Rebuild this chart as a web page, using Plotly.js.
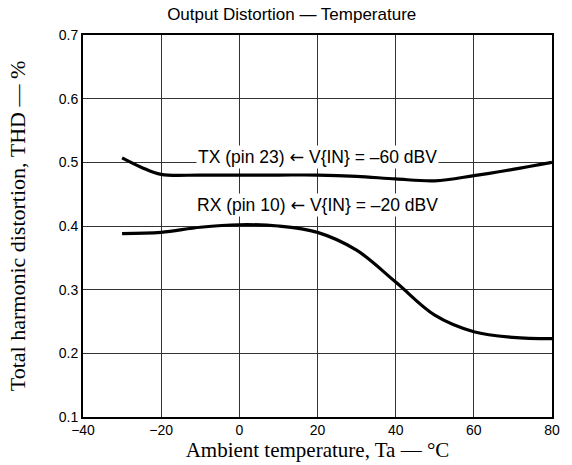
<!DOCTYPE html>
<html><head><meta charset="utf-8">
<script src="https://cdn.plot.ly/plotly-3.0.1.min.js"></script>
<style>body{margin:0;padding:0;background:#fff}#chart{width:572px;height:465px}</style>
</head><body><div id="chart"></div>
<script>
const txTemp = [-30, -25, -20, -10, 0, 10, 20, 30, 40, 50, 60, 70, 80];
const txTHD  = [0.507, 0.492, 0.481, 0.480, 0.480, 0.480, 0.480, 0.478, 0.474, 0.471, 0.479, 0.489, 0.500];
const rxTemp = [-30, -20, -10, 0, 10, 20, 30, 40, 50, 60, 70, 80];
const rxTHD  = [0.388, 0.390, 0.398, 0.402, 0.400, 0.390, 0.362, 0.312, 0.260, 0.234, 0.225, 0.223];
const arrow = '<span style="font-family:DejaVu Sans">\u2190</span>';
const txLabel = 'TX (pin 23) ' + arrow + ' V{IN} = \u201360 dBV';
const rxLabel = 'RX (pin 10) ' + arrow + ' V{IN} = \u201320 dBV';
const xTicks = [-40, -20, 0, 20, 40, 60, 80];
const xTickText = ['\u221240', '\u221220', '0', '20', '40', '60', '80'];
const yTicks = [0.1, 0.2, 0.3, 0.4, 0.5, 0.6, 0.7];

const line = {color: '#000', width: 3.2, shape: 'spline', smoothing: 1};
const data = [
  {x: txTemp, y: txTHD, mode: 'lines', line: line, hoverinfo: 'skip'},
  {x: rxTemp, y: rxTHD, mode: 'lines', line: line, hoverinfo: 'skip'}
];
const sans = 'Liberation Sans, Arial, sans-serif';
const serif = 'Liberation Serif, Times New Roman, serif';
const layout = {
  width: 572, height: 465,
  margin: {l: 83, r: 20, t: 35, b: 48},
  paper_bgcolor: '#fff', plot_bgcolor: '#fff',
  showlegend: false,
  title: {text: 'Output Distortion \u2014 Temperature', font: {family: sans, size: 17, color: '#000'}, x: 0.51, xanchor: 'center', y: 0.97, yanchor: 'middle'},
  xaxis: {
    range: [-40, 80], tickvals: xTicks, ticktext: xTickText,
    showgrid: true, gridcolor: '#333', gridwidth: 1,
    showline: true, linecolor: '#000', linewidth: 2, mirror: true,
    ticks: '', zeroline: false, ticklabelstandoff: -1,
    tickfont: {family: sans, size: 14, color: '#000'},
    title: {text: 'Ambient temperature, Ta \u2014 \u00b0C', font: {family: serif, size: 21, color: '#000'}, standoff: 3}
  },
  yaxis: {
    range: [0.1, 0.7], tickvals: yTicks, ticktext: yTicks.map(v => v.toFixed(1)),
    showgrid: true, gridcolor: '#333', gridwidth: 1,
    showline: true, linecolor: '#000', linewidth: 2, mirror: true,
    ticks: '', zeroline: false, ticklabelstandoff: 0,
    tickfont: {family: sans, size: 14, color: '#000'},
    title: {text: 'Total harmonic distortion, THD \u2014 %', font: {family: serif, size: 22, color: '#000'}, standoff: 27}
  },
  annotations: [
    {x: 20, y: 0.508, xref: 'x', yref: 'y', text: txLabel, showarrow: false, bgcolor: '#fff', borderpad: 1,
     font: {family: sans, size: 17.5, color: '#000'}, xanchor: 'center', yanchor: 'middle'},
    {x: 20, y: 0.433, xref: 'x', yref: 'y', text: rxLabel, showarrow: false, bgcolor: '#fff', borderpad: 1,
     font: {family: sans, size: 17.5, color: '#000'}, xanchor: 'center', yanchor: 'middle'}
  ]
};
Plotly.newPlot('chart', data, layout, {displayModeBar: false, staticPlot: true});
</script></body></html>
